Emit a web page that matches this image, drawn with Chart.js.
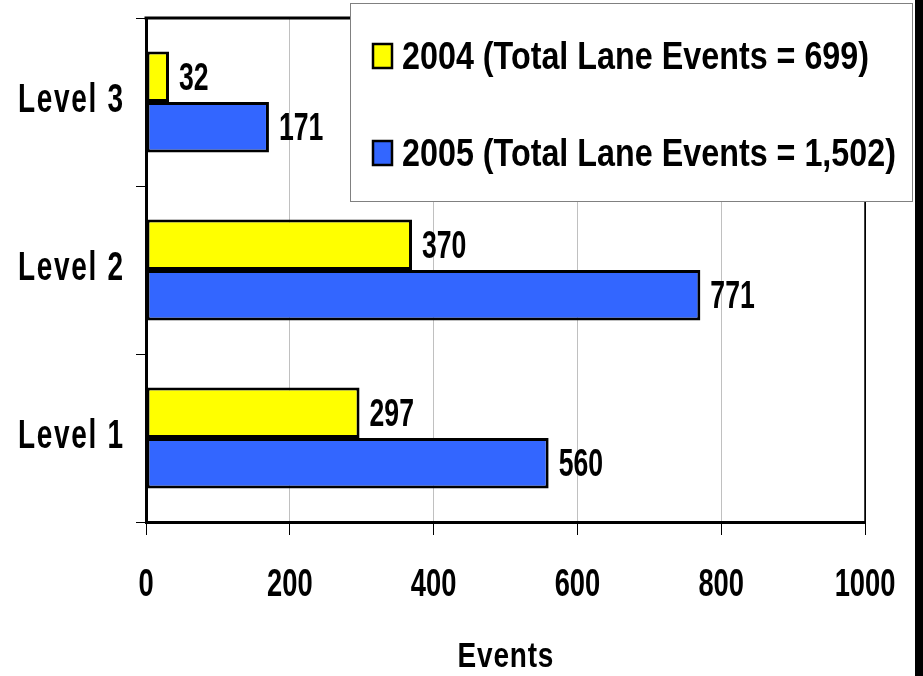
<!DOCTYPE html>
<html>
<head>
<meta charset="utf-8">
<script src="https://cdn.jsdelivr.net/npm/chart.js@4.4.0/dist/chart.umd.min.js"></script>
<style>
    html, body { margin: 0; padding: 0; background: #000; }
    #quadro { width: 915px; height: 676px; background: #fff; position: relative; }
</style>
</head>
<body>
<div id="quadro"><canvas id="grafico"></canvas></div>
<script>
const niveis = ["Level 3", "Level 2", "Level 1"];
const eventos2004 = [32, 370, 297];
const eventos2005 = [171, 771, 560];
const rotulosSeries = ["2004 (Total Lane Events = 699)", "2005 (Total Lane Events = 1,502)"];
const ticksX = [0, 200, 400, 600, 800, 1000];
const tituloX = "Events";

const fonte = "'Liberation Sans', Arial, sans-serif";

// texto bold "estreito" (a fonte narrow nao existe aqui, entao comprime na horizontal)
function textoEstreito(ctx, texto, x, y, tamanho, escalaX, alinhamento, espaco) {
    ctx.save();
    ctx.translate(x, y);
    ctx.scale(escalaX, 1);
    ctx.font = "bold " + tamanho + "px " + fonte;
    ctx.letterSpacing = (espaco || 0) + "px";
    ctx.textBaseline = "alphabetic";
    ctx.fillStyle = "#000";
    let largura = ctx.measureText(texto).width;
    if (espaco) largura -= espaco;
    let dx = 0;
    if (alinhamento == "center") dx = -largura / 2;
    if (alinhamento == "right") dx = -largura;
    ctx.textAlign = "left";
    ctx.fillText(texto, dx, 0);
    ctx.restore();
}

// moldura de cima e da direita da area do grafico
const moldura = {
    id: "moldura",
    afterDatasetsDraw(chart) {
        const { ctx, chartArea: a } = chart;
        ctx.save();
        ctx.strokeStyle = "#000";
        ctx.lineWidth = 3;
        ctx.beginPath();
        ctx.moveTo(a.left - 1.5, a.top);
        ctx.lineTo(a.right, a.top);
        ctx.stroke();
        ctx.lineWidth = 1.5;
        ctx.beginPath();
        ctx.moveTo(a.right, a.top);
        ctx.lineTo(a.right, a.bottom);
        ctx.stroke();
        ctx.restore();
    }
};

// rotulos dos eixos desenhados nas posicoes das escalas
const rotulosEixos = {
    id: "rotulosEixos",
    afterDraw(chart) {
        const ctx = chart.ctx;
        const x = chart.scales.x;
        const y = chart.scales.y;
        x.ticks.forEach((t, i) => {
            textoEstreito(ctx, String(t.value), x.getPixelForTick(i), x.top + 74, 39, 0.7, "center");
        });
        y.ticks.forEach((t, i) => {
            textoEstreito(ctx, niveis[i], y.right - 23, y.getPixelForTick(i) + 10, 40, 0.7, "right", 2.4);
        });
        textoEstreito(ctx, tituloX, (x.left + x.right) / 2, x.top + 145, 35, 0.8, "center", 1);
    }
};

// numeros ao lado das barras
const rotulosBarras = {
    id: "rotulosBarras",
    afterDatasetsDraw(chart) {
        const ctx = chart.ctx;
        chart.data.datasets.forEach((ds, i) => {
            chart.getDatasetMeta(i).data.forEach((barra, j) => {
                textoEstreito(ctx, ds.data[j].toLocaleString("en-US"), barra.x + 10, barra.y + 13, 38, 0.7, "left");
            });
        });
    }
};

// legenda dentro do grafico
const legendaCaixa = {
    id: "legendaCaixa",
    afterDraw(chart) {
        const ctx = chart.ctx;
        ctx.save();
        ctx.fillStyle = "#fff";
        ctx.fillRect(350, 3, 563, 199);
        ctx.strokeStyle = "#808080";
        ctx.lineWidth = 1;
        ctx.strokeRect(350.5, 3.5, 562, 198);
        chart.data.datasets.forEach((ds, i) => {
            const y = 56 + i * 97;
            ctx.fillStyle = ds.backgroundColor;
            ctx.fillRect(373, y - 12, 19, 24);
            ctx.strokeStyle = "#000";
            ctx.lineWidth = 2.5;
            ctx.strokeRect(373, y - 12, 19, 24);
            textoEstreito(ctx, ds.label, 402, y + 13, 38, 0.85, "left");
        });
        ctx.restore();
    }
};

new Chart(document.querySelector("#grafico"), {
    type: "bar",
    data: {
        labels: niveis,
        datasets: [
            {
                label: rotulosSeries[0],
                data: eventos2004,
                backgroundColor: "#FFFF00",
                borderColor: "#000",
                borderWidth: 3,
                borderSkipped: false,
                categoryPercentage: 0.6,
                barPercentage: 1.0
            },
            {
                label: rotulosSeries[1],
                data: eventos2005,
                backgroundColor: "#3366FF",
                borderColor: "#000",
                borderWidth: 3,
                borderSkipped: false,
                categoryPercentage: 0.6,
                barPercentage: 1.0
            }
        ]
    },
    options: {
        indexAxis: "y",
        responsive: true,
        maintainAspectRatio: false,
        animation: false,
        layout: { padding: { top: 18, right: 50, left: 0, bottom: 0 } },
        plugins: {
            legend: { display: false },
            tooltip: { enabled: false }
        },
        scales: {
            x: {
                min: 0,
                max: 1000,
                afterBuildTicks: (escala) => { escala.ticks = ticksX.map(v => ({ value: v })); },
                afterFit: (escala) => { escala.height = 154; },
                grid: {
                    color: (c) => c.tick && c.tick.value === 1000 ? "#000" : "#c0c0c0",
                    tickColor: "#000",
                    tickLength: 13,
                    lineWidth: 1
                },
                border: { color: "#000", width: 3 },
                ticks: { display: false }
            },
            y: {
                afterFit: (escala) => { escala.width = 146; },
                grid: {
                    drawOnChartArea: false,
                    offset: true,
                    tickColor: "#000",
                    tickLength: 10
                },
                border: { color: "#000", width: 3 },
                ticks: { display: false }
            }
        }
    },
    plugins: [moldura, rotulosBarras, rotulosEixos, legendaCaixa]
});
</script>
</body>
</html>
